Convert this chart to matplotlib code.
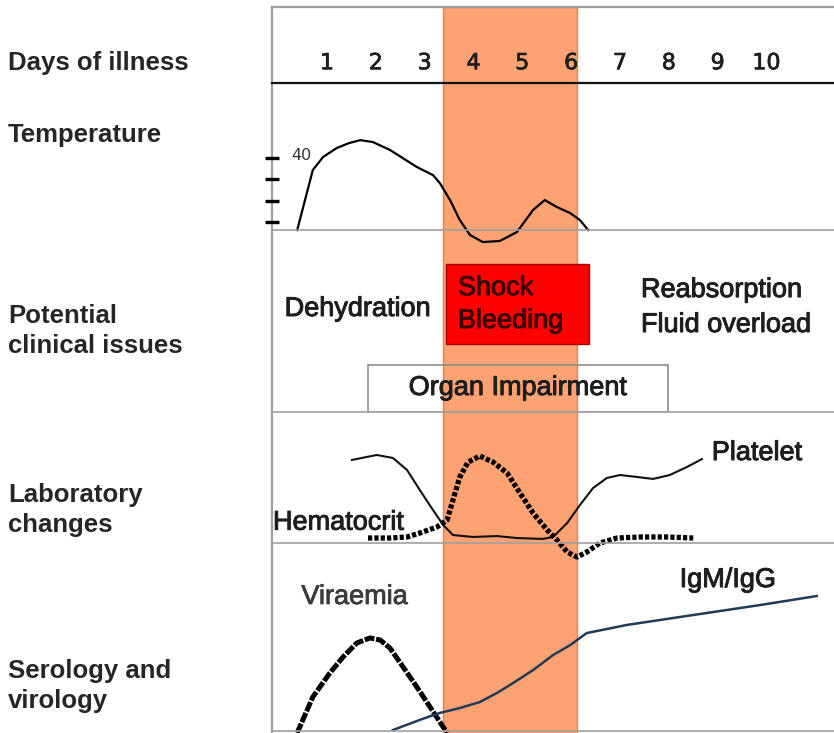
import matplotlib
matplotlib.use("Agg")
import matplotlib.pyplot as plt
import matplotlib.patheffects as pe
from matplotlib.patches import Rectangle

plt.rcParams["font.family"] = ["Liberation Sans", "DejaVu Sans"]

# ---- data (x in days of illness) ----
days = [1, 2, 3, 4, 5, 6, 7, 8, 9, 10]
day_range = (-0.126, 11.383)
critical_phase = (3.38, 6.12)
shock_span = (3.44, 6.37)
organ_span = (1.84, 7.98)

temp_ticks = [37, 38, 39, 40]
temp_range = (36.625, 43.52)
temp_day = [0.39, 0.71, 0.92, 1.20, 1.45, 1.68, 1.94, 2.29, 2.84, 3.17, 3.31, 3.52,
            3.72, 3.93, 4.19, 4.54, 4.89, 5.22, 5.46, 5.71, 5.98, 6.18, 6.35]
temp_val = [36.62, 39.44, 40.05, 40.47, 40.70, 40.84, 40.75, 40.38, 39.58, 39.20, 38.83, 38.03,
            37.09, 36.39, 36.06, 36.11, 36.53, 37.56, 38.03, 37.70, 37.42, 37.09, 36.62]

platelet_day = [1.51, 2.02, 2.35, 2.64, 2.90, 3.17, 3.38, 3.58, 3.99, 4.48, 4.89, 5.42,
                5.63, 5.92, 6.18, 6.45, 6.73, 7.00, 7.35, 7.68, 8.02, 8.37, 8.68]
platelet_val = [0.634, 0.672, 0.649, 0.557, 0.405, 0.252, 0.137, 0.061, 0.046, 0.053, 0.038, 0.031,
                0.046, 0.153, 0.290, 0.420, 0.496, 0.519, 0.504, 0.489, 0.519, 0.580, 0.641]

hct_day = [1.84, 2.29, 2.64, 2.90, 3.25, 3.46, 3.58, 3.72, 3.89, 4.13, 4.40, 4.69,
           4.95, 5.22, 5.51, 5.71, 5.92, 6.12, 6.32, 6.59, 6.94, 7.41, 7.96, 8.50]
hct_val = [0.038, 0.038, 0.046, 0.076, 0.122, 0.176, 0.328, 0.504, 0.618, 0.664, 0.618, 0.534,
           0.382, 0.229, 0.099, 0.023, -0.069, -0.107, -0.069, 0.0, 0.038, 0.046, 0.046, 0.038]

vir_day = [0.39, 0.71, 1.06, 1.33, 1.61, 1.88, 2.09, 2.29, 2.56, 2.84, 3.11, 3.38, 3.46]
vir_val = [-0.01, 0.181, 0.309, 0.394, 0.468, 0.495, 0.484, 0.441, 0.340, 0.234, 0.128, 0.021, -0.01]

ab_day = [2.35, 2.90, 3.31, 3.72, 4.13, 4.48, 4.81, 5.22, 5.63, 5.98, 6.18, 6.32,
          7.14, 8.50, 9.87, 11.03]
ab_val = [0.005, 0.059, 0.096, 0.122, 0.154, 0.202, 0.255, 0.324, 0.404, 0.457, 0.495, 0.521,
          0.564, 0.617, 0.670, 0.718]

row_labels = ["Days of illness", "Temperature", "Potential\nclinical issues",
              "Laboratory\nchanges", "Serology and\nvirology"]
row_label_y = [63, 135, 331, 510, 686]

W, H = 834, 733
fig = plt.figure(figsize=(W / 100, H / 100), dpi=100)
GRID = "#a0a0a0"
INK = "#1e1e1e"
heavy = [pe.withStroke(linewidth=0.7, foreground=INK)]


def panel(top, bottom, z=1):
    ax = fig.add_axes([272 / W, 1 - bottom / H, (W - 272) / W, (bottom - top) / H], zorder=z)
    ax.set_xlim(*day_range)
    ax.patch.set_visible(False)
    for s in ax.spines.values():
        s.set_visible(False)
    ax.set_xticks([])
    ax.set_yticks([])
    return ax


def baseline(ax, color=GRID, lw=1.2):
    ax.spines["bottom"].set_visible(True)
    ax.spines["bottom"].set_color(color)
    ax.spines["bottom"].set_linewidth(lw)


# background frame + critical phase band
bg = panel(7, H + 2, z=0)
bg.axvspan(*critical_phase, facecolor="#fda273", edgecolor="#d8865e", lw=1)
for side in ["left", "top"]:
    bg.spines[side].set_visible(True)
    bg.spines[side].set_color(GRID)
    bg.spines[side].set_linewidth(1.6)

# header with day numbers
hd = panel(7, 83)
baseline(hd, "#111111", 1.6)
for d in days:
    hd.text(d, 0.26, str(d), transform=hd.get_xaxis_transform(), ha="center", va="center",
            fontsize=16, family="DejaVu Sans", color=INK,
            path_effects=[pe.withStroke(linewidth=0.5, foreground=INK)])

# temperature
tp = panel(83, 230)
tp.set_ylim(*temp_range)
baseline(tp)
tp.set_yticks(temp_ticks)
tp.tick_params(axis="y", direction="inout", length=10, width=2.4, color="black",
               labelleft=False, pad=0)
tp.plot(temp_day, temp_val, color="black", lw=1.6, clip_on=False, solid_joinstyle="round")
tp.annotate("40", xy=(0, 40), xycoords=tp.get_yaxis_transform(), xytext=(14, 2),
            textcoords="offset points", ha="left", va="center", fontsize=11.5,
            family="DejaVu Sans", color="#333333")

# clinical issues
cl = panel(230, 412)
cl.set_ylim(0, 1)
baseline(cl)
cl.add_patch(Rectangle((shock_span[0], 0.374), shock_span[1] - shock_span[0], 0.439,
                       facecolor="#ff0000", edgecolor="#a00000", lw=1))
cl.add_patch(Rectangle((organ_span[0], 0.0), organ_span[1] - organ_span[0], 0.258,
                       fill=False, edgecolor="#8c8c8c", lw=1.2))
cl.text(1.63, 0.566, "Dehydration", ha="center", va="center", fontsize=19.5, color=INK,
        path_effects=heavy)
shock_fx = [pe.withStroke(linewidth=0.7, foreground="#3a0000")]
cl.text(3.68, 0.681, "Shock", ha="left", va="center", fontsize=19.5, color="#3a0000",
        path_effects=shock_fx)
cl.text(3.68, 0.50, "Bleeding", ha="left", va="center", fontsize=19.5, color="#3a0000",
        path_effects=shock_fx)
cl.text(7.43, 0.670, "Reabsorption", ha="left", va="center", fontsize=19.5, color=INK,
        path_effects=heavy)
cl.text(7.43, 0.478, "Fluid overload", ha="left", va="center", fontsize=19.5, color=INK,
        path_effects=heavy)
cl.text(4.91, 0.132, "Organ Impairment", ha="center", va="center", fontsize=19.5, color=INK,
        path_effects=heavy)

# laboratory changes
lb = panel(412, 543)
lb.set_ylim(0, 1)
baseline(lb)
lb.plot(platelet_day, platelet_val, color="#111111", lw=1.5, clip_on=False, solid_joinstyle="round")
lb.plot(hct_day, hct_val, color="black", lw=3.8, ls=(0, (0.8, 0.4)), clip_on=False)
lb.text(8.88, 0.687, "Platelet", ha="left", va="center", fontsize=19.5, color=INK,
        path_effects=heavy)
lb.text(-0.106, 0.155, "Hematocrit", ha="left", va="center", fontsize=19.5, color=INK,
        path_effects=heavy)

# serology and virology
sr = panel(543, 731)
sr.set_ylim(0, 1)
baseline(sr)
sr.plot(vir_day, vir_val, color="black", lw=3.6, ls=(0, (2, 0.35)), clip_on=False)
sr.plot(ab_day, ab_val, color="#1f3b57", lw=1.8, clip_on=False, solid_joinstyle="round")
sr.text(1.57, 0.713, "Viraemia", ha="center", va="center", fontsize=19.5, color="#3c3c3c",
        path_effects=[pe.withStroke(linewidth=0.6, foreground="#3c3c3c")])
sr.text(9.21, 0.803, "IgM/IgG", ha="center", va="center", fontsize=19.5, color=INK,
        path_effects=heavy)

# row labels on the left
for lab, y in zip(row_labels, row_label_y):
    fig.text(8 / W, 1 - y / H, lab, ha="left", va="center", fontsize=18.5,
             fontweight="bold", color="#262626", linespacing=1.35)

fig.savefig("out.png", dpi=100)
